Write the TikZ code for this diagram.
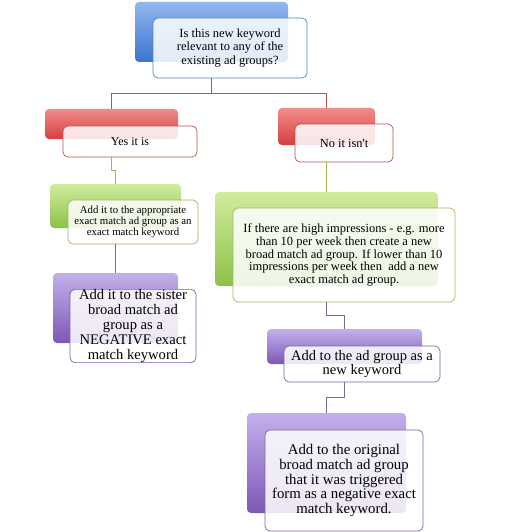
\documentclass[tikz,border=0pt]{standalone}
\usepackage{fontspec}
\setmainfont{Liberation Serif}
\usetikzlibrary{calc}
\definecolor{bluetop}{RGB}{146,182,240}
\definecolor{bluebot}{RGB}{58,116,208}
\definecolor{blueline}{RGB}{84,128,188}
\definecolor{redtop}{RGB}{242,140,140}
\definecolor{redbot}{RGB}{214,62,62}
\definecolor{redline}{RGB}{192,80,77}
\definecolor{greentop}{RGB}{208,236,156}
\definecolor{greenbot}{RGB}{140,194,72}
\definecolor{greenline}{RGB}{155,187,89}
\definecolor{purpletop}{RGB}{196,176,236}
\definecolor{purplebot}{RGB}{124,88,182}
\definecolor{purpleline}{RGB}{128,100,162}

\begin{document}
\begin{tikzpicture}[x=1pt, y=-1pt,
  back/.style={rounded corners=4pt, inner sep=0pt},
  front/.style={rounded corners=5pt, inner sep=0pt, fill=white, fill opacity=0.86,
    text opacity=1, align=center, line width=0.7pt},
  boxsize/.style 2 args={minimum width=#1, minimum height=#2},
  link/.style={line width=0.7pt}]
  \useasboundingbox (0,0) rectangle (504,532);
  % question
  \node[back, boxsize={153pt}{60pt}, top color=bluetop, bottom color=bluebot] (qback) at (211.5,32) {};
  \node[front, boxsize={154pt}{60pt}, draw=blueline, font=\fontsize{12.5}{13.4}\selectfont] (q) at ([shift={(18.5,16)}]qback) {Is this new keyword\\relevant to any of the\\existing ad groups?};
  % yes / no
  \node[back, boxsize={133pt}{30pt}, top color=redtop, bottom color=redbot] (yesback) at (111.5,124) {};
  \node[front, boxsize={134pt}{31pt}, draw=redline, font=\fontsize{12}{14}\selectfont] (yes) at ([shift={(18.5,17.5)}]yesback) {Yes it is};
  \node[back, boxsize={97pt}{37pt}, top color=redtop, bottom color=redbot] (noback) at (326.5,126.5) {};
  \node[front, boxsize={98pt}{38pt}, draw=redline, font=\fontsize{12.4}{14}\selectfont] (no) at ([shift={(17.5,16.5)}]noback) {No it isn\textquotesingle t};
  % left branch
  \node[back, boxsize={131pt}{44pt}, top color=greentop, bottom color=greenbot] (exactback) at (115.5,206) {};
  \node[front, boxsize={130pt}{44pt}, draw=greenline, font=\fontsize{10.8}{11.2}\selectfont] (exact) at ([shift={(17.5,16)}]exactback) {Add it to the appropriate\\exact match ad group as an\\exact match keyword};
  \node[back, boxsize={125pt}{70pt}, top color=purpletop, bottom color=purplebot] (sisterback) at (115.5,308) {};
  \node[front, boxsize={126pt}{71pt}, draw=purpleline, font=\fontsize{14.6}{15}\selectfont] (sister) at ([shift={(17.5,18)}]sisterback) {Add it to the sister\\broad match ad\\group as a\\NEGATIVE exact\\match keyword};
  % right branch
  \node[back, boxsize={223pt}{94pt}, top color=greentop, bottom color=greenbot] (impback) at (326.5,239) {};
  \node[front, boxsize={222pt}{94pt}, draw=greenline, font=\fontsize{12.5}{12.6}\selectfont] (imp) at ([shift={(17.5,16)}]impback) {If there are high impressions - e.g. more\\than 10 per week then create a new\\broad match ad group. If lower than 10\\impressions per week then \ add a new\\exact match ad group.};
  \node[back, boxsize={155pt}{35pt}, top color=purpletop, bottom color=purplebot] (newkwback) at (344.5,346.5) {};
  \node[front, boxsize={156pt}{36pt}, draw=purpleline, font=\fontsize{14.5}{14.2}\selectfont] (newkw) at ([shift={(17.5,17.5)}]newkwback) {Add to the ad group as a\\new keyword};
  \node[back, boxsize={159pt}{100pt}, top color=purpletop, bottom color=purplebot] (origback) at (326.5,463) {};
  \node[front, boxsize={158pt}{101pt}, draw=purpleline, font=\fontsize{14.8}{14.6}\selectfont] (orig) at ([shift={(17.5,17.5)}]origback) {Add to the original\\broad match ad group\\that it was triggered\\form as a negative exact\\match keyword.};
  % connectors
  \coordinate (qout) at (qback.south |- q.south);
  \coordinate (yesout) at (yesback.south |- yes.south);
  \coordinate (noout) at (noback.south |- no.south);
  \coordinate (exactout) at (exactback.south |- exact.south);
  \coordinate (impout) at (impback.south |- imp.south);
  \coordinate (newkwout) at (newkwback.south |- newkw.south);
  \draw[link, redline] (qout) |- ($(qout)!0.5!(yesback.north)$) -| (yesback.north);
  \draw[link, redline] (qout) |- ($(qout)!0.5!(noback.north)$) -| (noback.north);
  \draw[link, greenline] (yesout) |- ($(yesout)!0.5!(exactback.north)$) -| (exactback.north);
  \draw[link, purpleline] (exactout) -- (sisterback.north);
  \draw[link, greenline] (noout) -- (impback.north);
  \draw[link, purpleline] (impout) |- ($(impout)!0.5!(newkwback.north)$) -| (newkwback.north);
  \draw[link, purpleline] (newkwout) |- ($(newkwout)!0.5!(origback.north)$) -| (origback.north);
\end{tikzpicture}
\end{document}
